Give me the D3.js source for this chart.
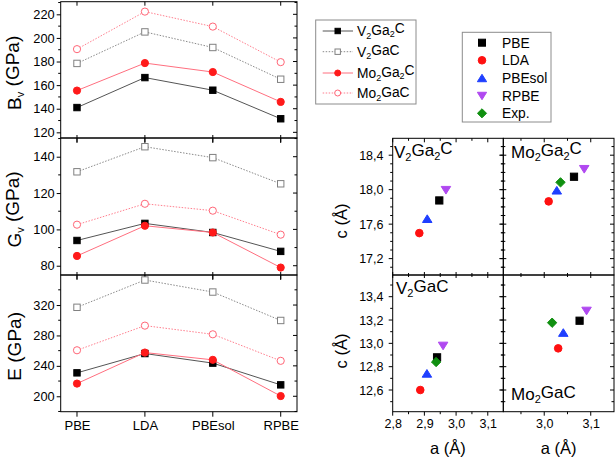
<!DOCTYPE html>
<html><head><meta charset="utf-8">
<script src="https://cdn.jsdelivr.net/npm/d3@7"></script>
<style>
body{margin:0;background:#fff}
svg{display:block;font-family:"Liberation Sans",Arial,Helvetica,sans-serif}
</style>
</head><body>
<svg id="chart" width="616" height="459"></svg>
<script>
// ---------------- DATA ----------------
const functionals = ["PBE", "LDA", "PBEsol", "RPBE"];
const compounds = ["V2Ga2C", "V2GaC", "Mo2Ga2C", "Mo2GaC"];

// Bulk modulus Bv (GPa)
const Bv_V2Ga2C  = [141.0, 166.4, 155.7, 131.5];
const Bv_V2GaC   = [178.4, 205.1, 191.9, 165.0];
const Bv_Mo2Ga2C = [155.4, 178.7, 171.1, 145.8];
const Bv_Mo2GaC  = [190.5, 222.3, 209.6, 179.5];
// Shear modulus Gv (GPa)
const Gv_V2Ga2C  = [93.9, 103.3, 98.3, 87.9];
const Gv_V2GaC   = [131.7, 145.5, 139.5, 125.1];
const Gv_Mo2Ga2C = [85.4, 102.0, 98.3, 79.0];
const Gv_Mo2GaC  = [102.6, 114.1, 110.3, 97.1];
// Young's modulus E (GPa)
const E_V2Ga2C   = [230.8, 256.2, 243.6, 215.0];
const E_V2GaC    = [317.0, 352.9, 337.1, 299.7];
const E_Mo2Ga2C  = [216.7, 257.5, 247.9, 200.3];
const E_Mo2GaC   = [260.5, 292.9, 281.5, 246.6];

// Lattice parameters (order: PBE, LDA, PBEsol, RPBE, Exp.)
const methods = ["PBE", "LDA", "PBEsol", "RPBE", "Exp."];
const a_V2Ga2C  = [2.947, 2.884, 2.909, 2.968, null];
const c_V2Ga2C  = [17.875, 17.496, 17.66, 17.997, null];
const a_Mo2Ga2C = [3.064, 3.0095, 3.027, 3.086, 3.035];
const c_Mo2Ga2C = [18.15, 17.864, 17.99, 18.24, 18.085];
const a_V2GaC   = [2.940, 2.887, 2.908, 2.959, 2.937];
const c_V2GaC   = [12.88, 12.60, 12.74, 12.98, 12.84];
const a_Mo2GaC  = [3.076, 3.030, 3.041, 3.091, 3.017];
const c_Mo2GaC  = [13.194, 12.957, 13.09, 13.28, 13.177];

// Tick values
const ticksB = [120, 140, 160, 180, 200, 220];
const ticksG = [80, 100, 120, 140];
const ticksE = [200, 240, 280, 320];
const ticksC211 = [17.2, 17.6, 18.0, 18.4];
const ticksC312 = [12.6, 12.8, 13.0, 13.2, 13.4];
const ticksALeft = [2.8, 2.9, 3.0, 3.1];
const ticksARight = [3.0, 3.1];

// ---------------- STYLE ----------------
const seriesStyle = {
  "V2Ga2C":  {line: "#555555", dash: null,  shape: "square", fill: "#000000", stroke: "#000000"},
  "V2GaC":   {line: "#8a8a8a", dash: "1.5,1.5", shape: "square", fill: "#ffffff", stroke: "#808080"},
  "Mo2Ga2C": {line: "#ff6f7f", dash: null,  shape: "circle", fill: "#ff1a1a", stroke: "#ff1a1a"},
  "Mo2GaC":  {line: "#ff7f8f", dash: "1.5,1.5", shape: "circle", fill: "#ffffff", stroke: "#ff6677"}
};
const methodStyle = {
  "PBE":    {shape: "square",  color: "#000000"},
  "LDA":    {shape: "circle",  color: "#ff1010"},
  "PBEsol": {shape: "triUp",   color: "#1f3fff"},
  "RPBE":   {shape: "triDown", color: "#b048f0"},
  "Exp.":   {shape: "diamond", color: "#109010"}
};

const svg = d3.select("#chart");
const fmtComma = d => d3.format(".1f")(d).replace(".", ",");
const FONT = "Liberation Sans, Arial, sans-serif";

function addRich(sel, str, sizeSub) {
  const re = /(_\w)|(\d)|([^_\d]+)/g;
  let m, shifted = false;
  while ((m = re.exec(str)) !== null) {
    if (m[1] || m[2]) {
      const t = m[1] ? m[1].slice(1) : m[2];
      sel.append("tspan").attr("dy", shifted ? 0 : "0.3em").attr("font-size", sizeSub).text(t);
      shifted = true;
    } else {
      sel.append("tspan").attr("dy", shifted ? "-0.3em" : 0).text(m[3]);
      shifted = false;
    }
  }
}

function marker(g, shape, cx, cy, s, fill, stroke) {
  let el;
  if (shape === "square") {
    el = g.append("rect").attr("x", cx - s).attr("y", cy - s).attr("width", 2 * s).attr("height", 2 * s);
  } else if (shape === "circle") {
    el = g.append("circle").attr("cx", cx).attr("cy", cy).attr("r", s);
  } else if (shape === "triUp") {
    const h = s * 1.15;
    el = g.append("path").attr("d", `M${cx},${cy - h}L${cx + h * 1.15},${cy + h * 0.85}L${cx - h * 1.15},${cy + h * 0.85}Z`);
  } else if (shape === "triDown") {
    const h = s * 1.15;
    el = g.append("path").attr("d", `M${cx},${cy + h}L${cx + h * 1.15},${cy - h * 0.85}L${cx - h * 1.15},${cy - h * 0.85}Z`);
  } else if (shape === "diamond") {
    const h = s * 1.3;
    el = g.append("path").attr("d", `M${cx},${cy - h}L${cx + h},${cy}L${cx},${cy + h}L${cx - h},${cy}Z`);
  }
  el.attr("fill", fill).attr("stroke", stroke).attr("stroke-width", 1);
  return el;
}

function drawTicks(g, scale, values, orient, pos, outLen, inLen) {
  values.forEach(v => {
    const p = scale(v);
    if (orient === "left") g.append("line").attr("x1", pos - outLen).attr("x2", pos + inLen).attr("y1", p).attr("y2", p);
    if (orient === "right") g.append("line").attr("x1", pos + outLen).attr("x2", pos - inLen).attr("y1", p).attr("y2", p);
    if (orient === "bottom") g.append("line").attr("y1", pos + outLen).attr("y2", pos - inLen).attr("x1", p).attr("x2", p);
    if (orient === "top") g.append("line").attr("y1", pos - outLen).attr("y2", pos + inLen).attr("x1", p).attr("x2", p);
  });
  g.selectAll("line").attr("stroke", "#000").attr("stroke-width", 1);
}
function range(a, b, step) { const out = []; for (let v = a; v <= b + 1e-9; v += step) out.push(+v.toFixed(4)); return out; }

// ---------------- LEFT: elastic moduli ----------------
const LX0 = 60.7, LX1 = 297;
const xCat = d3.scaleLinear().domain([-0.24, 3.24]).range([LX0, LX1]);
const leftPanels = [
  {key: "B", title: "B_v (GPa)", y0: 1.7, y1: 138, domain: [115.2, 230.7], ticks: ticksB, minor: 10,
   data: {V2Ga2C: Bv_V2Ga2C, V2GaC: Bv_V2GaC, Mo2Ga2C: Bv_Mo2Ga2C, Mo2GaC: Bv_Mo2GaC}},
  {key: "G", title: "G_v (GPa)", y0: 138, y1: 275, domain: [74.9, 150.3], ticks: ticksG, minor: 10,
   data: {V2Ga2C: Gv_V2Ga2C, V2GaC: Gv_V2GaC, Mo2Ga2C: Gv_Mo2Ga2C, Mo2GaC: Gv_Mo2GaC}},
  {key: "E", title: "E (GPa)", y0: 275, y1: 411.7, domain: [179.7, 359.5], ticks: ticksE, minor: 20,
   data: {V2Ga2C: E_V2Ga2C, V2GaC: E_V2GaC, Mo2Ga2C: E_Mo2Ga2C, Mo2GaC: E_Mo2GaC}}
];

leftPanels.forEach((P, i) => {
  const y = d3.scaleLinear().domain(P.domain).range([P.y1, P.y0]);
  const g = svg.append("g");
  const minorVals = range(Math.ceil(P.domain[0] / P.minor) * P.minor, P.domain[1], P.minor).filter(v => !P.ticks.includes(v));
  const ax = g.append("g").attr("transform", `translate(${LX0},0)`)
    .call(d3.axisLeft(y).tickValues(P.ticks).tickSize(4).tickPadding(2).tickFormat(d3.format("d")));
  ax.select(".domain").remove();
  ax.selectAll("text").attr("font-size", 12.8).attr("font-family", FONT).attr("fill", "#000");
  ax.selectAll("line").attr("stroke", "#000");
  const tg = g.append("g");
  drawTicks(tg, y, minorVals, "left", LX0, 2.5, 0);
  drawTicks(tg, y, P.ticks, "right", LX1, 0, 4);
  drawTicks(tg, y, minorVals, "right", LX1, 0, 2.5);
  drawTicks(tg, xCat, [0, 1, 2, 3], "bottom", P.y1, 5, i < 2 ? 3 : 0);
  drawTicks(tg, xCat, [0, 1, 2, 3], "top", P.y0, 0, 4);
  g.append("rect").attr("x", LX0).attr("y", P.y0).attr("width", LX1 - LX0).attr("height", P.y1 - P.y0)
    .attr("fill", "none").attr("stroke", "#000").attr("stroke-width", 1);
  compounds.forEach(c => {
    const st = seriesStyle[c];
    const vals = P.data[c];
    const line = d3.line().x((d, k) => xCat(k)).y(d => y(d));
    g.append("path").datum(vals).attr("d", line).attr("fill", "none")
      .attr("stroke", st.line).attr("stroke-width", 1).attr("stroke-dasharray", st.dash);
    vals.forEach((v, k) => {
      marker(g, st.shape, xCat(k), y(v), st.shape === "circle" ? 3.6 : 3.2, st.fill, st.stroke);
    });
  });
  const t = g.append("text").attr("transform", `translate(21,${(P.y0 + P.y1) / 2 + 3}) rotate(-90)`)
    .attr("text-anchor", "middle").attr("font-size", 19).attr("fill", "#000");
  addRich(t, P.title, 11);
});
const catAxis = svg.append("g").attr("transform", `translate(0,411.7)`)
  .call(d3.axisBottom(xCat).tickValues([0, 1, 2, 3]).tickSize(0).tickPadding(9.3).tickFormat(k => functionals[k]));
catAxis.select(".domain").remove();
catAxis.selectAll("text").attr("font-size", 13).attr("fill", "#000").attr("font-family", FONT);

// ---------------- RIGHT: lattice parameters ----------------
const colX = [[392.7, 503.3], [503.3, 614]];
const rowY = [[138.3, 275], [275, 411.7]];
const xA = [d3.scaleLinear().domain([2.8, 3.149]).range(colX[0]),
            d3.scaleLinear().domain([2.912, 3.15]).range(colX[1])];
const yC = [d3.scaleLinear().domain([17.01, 18.596]).range([rowY[0][1], rowY[0][0]]),
            d3.scaleLinear().domain([12.414, 13.586]).range([rowY[1][1], rowY[1][0]])];
const aTicks = [ticksALeft, ticksARight];
const cTicks = [ticksC211, ticksC312];
const cMinor = [range(17.1, 18.5, 0.1), range(12.5, 13.5, 0.1)];
const aMinor = [range(2.85, 3.15, 0.05), range(2.95, 3.15, 0.05)];
const scatterPanels = [
  {row: 0, col: 0, a: a_V2Ga2C, c: c_V2Ga2C, label: "V2Ga2C", lx: 394, ly: 158},
  {row: 0, col: 1, a: a_Mo2Ga2C, c: c_Mo2Ga2C, label: "Mo2Ga2C", lx: 511, ly: 158},
  {row: 1, col: 0, a: a_V2GaC, c: c_V2GaC, label: "V2GaC", lx: 396, ly: 294},
  {row: 1, col: 1, a: a_Mo2GaC, c: c_Mo2GaC, label: "Mo2GaC", lx: 511, ly: 400}
];
scatterPanels.forEach(S => {
  const x = xA[S.col], y = yC[S.row];
  const [x0, x1] = colX[S.col], [y0, y1] = rowY[S.row];
  const g = svg.append("g");
  const tg = g.append("g");
  const cMaj = cTicks[S.row].map(v => v);
  const cMin = cMinor[S.row].filter(v => !cMaj.some(m => Math.abs(m - v) < 1e-6));
  const aMaj = range(Math.ceil(x.domain()[0] * 10) / 10, x.domain()[1], 0.1);
  const aMin = aMinor[S.col].filter(v => v > x.domain()[0] && v < x.domain()[1] && !aMaj.some(m => Math.abs(m - v) < 1e-6));
  const leftOut = S.col === 0 ? 4 : 3, leftIn = S.col === 0 ? 0 : 3;
  drawTicks(tg, y, cMaj, "left", x0, leftOut, leftIn);
  drawTicks(tg, y, cMin, "left", x0, S.col === 0 ? 2.5 : 2, S.col === 0 ? 0 : 2);
  drawTicks(tg, y, cMaj, "right", x1, 0, 4);
  drawTicks(tg, y, cMin, "right", x1, 0, 2.5);
  drawTicks(tg, x, aMaj, "bottom", y1, S.row === 1 ? 4 : 3, S.row === 1 ? 0 : 3);
  drawTicks(tg, x, aMin, "bottom", y1, S.row === 1 ? 2.5 : 2, S.row === 1 ? 0 : 2);
  if (S.row === 0) {
    drawTicks(tg, x, aMaj, "top", y0, 0, 4);
    drawTicks(tg, x, aMin, "top", y0, 0, 2.5);
  }
  g.append("rect").attr("x", x0).attr("y", y0).attr("width", x1 - x0).attr("height", y1 - y0)
    .attr("fill", "none").attr("stroke", "#000").attr("stroke-width", 1);
  if (S.col === 0) {
    const ax = g.append("g").attr("transform", `translate(${x0},0)`)
      .call(d3.axisLeft(y).tickValues(cTicks[S.row]).tickSize(0).tickPadding(9.2).tickFormat(fmtComma));
    ax.select(".domain").remove();
    ax.selectAll("text").attr("font-size", 12.5).attr("fill", "#000").attr("font-family", FONT);
    g.append("text").attr("transform", `translate(347,${S.row === 0 ? 221 : 351}) rotate(-90)`)
      .attr("text-anchor", "middle").attr("font-size", 16.5).attr("fill", "#000").text("c (Å)");
  }
  if (S.row === 1) {
    const ax = g.append("g").attr("transform", `translate(0,${y1})`)
      .call(d3.axisBottom(x).tickValues(aTicks[S.col]).tickSize(0).tickPadding(7.8).tickFormat(fmtComma));
    ax.select(".domain").remove();
    ax.selectAll("text").attr("font-size", 12.5).attr("fill", "#000").attr("font-family", FONT);
    g.append("text").attr("x", (x0 + x1) / 2).attr("y", 454).attr("text-anchor", "middle")
      .attr("font-size", 16.5).attr("fill", "#000").text("a (Å)");
  }
  methods.forEach((m, k) => {
    if (S.a[k] == null) return;
    const st = methodStyle[m];
    marker(g, st.shape, x(S.a[k]), y(S.c[k]), st.shape === "circle" ? 3.8 : 3.6, st.color, st.color);
  });
  const lt = g.append("text").attr("x", S.lx).attr("y", S.ly).attr("font-size", 17).attr("fill", "#000");
  addRich(lt, S.label, 11);
});

// ---------------- LEGENDS ----------------
const leg1 = svg.append("g");
leg1.append("rect").attr("x", 315.7).attr("y", 20).attr("width", 100.3).attr("height", 84)
  .attr("fill", "#fff").attr("stroke", "#8c8c8c").attr("stroke-width", 1);
compounds.forEach((c, i) => {
  const st = seriesStyle[c];
  const yy = [31, 51.7, 73, 93][i];
  leg1.append("line").attr("x1", 322.7).attr("x2", 353).attr("y1", yy).attr("y2", yy)
    .attr("stroke", st.line).attr("stroke-width", 1).attr("stroke-dasharray", st.dash);
  marker(leg1, st.shape, 337.7, yy, st.shape === "circle" ? 3 : 2.7, st.fill, st.stroke);
  const t = leg1.append("text").attr("x", 357).attr("y", yy + 5).attr("font-size", 13.8).attr("fill", "#000");
  addRich(t, c, 9);
});
const leg2 = svg.append("g");
leg2.append("rect").attr("x", 462.3).attr("y", 32.3).attr("width", 88.7).attr("height", 89.7)
  .attr("fill", "#fff").attr("stroke", "#8c8c8c").attr("stroke-width", 1);
methods.forEach((m, i) => {
  const st = methodStyle[m];
  const yy = [42.7, 60.3, 78.3, 95.7, 113.3][i];
  marker(leg2, st.shape, 482, yy, st.shape === "circle" ? 3.8 : 3.5, st.color, st.color);
  leg2.append("text").attr("x", 502).attr("y", yy + 5).attr("font-size", 13.8).attr("fill", "#000").text(m);
});
</script>
</body></html>
